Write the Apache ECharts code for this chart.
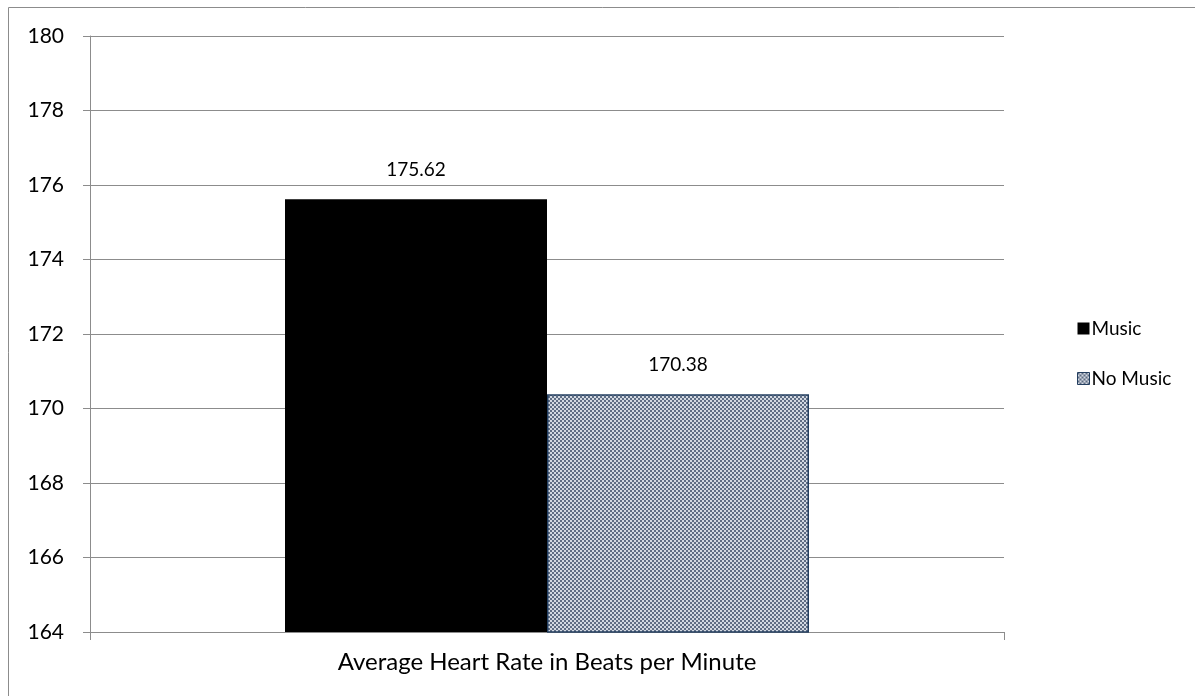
<!DOCTYPE html>
<html>
<head>
<meta charset="utf-8">
<script src="https://cdn.jsdelivr.net/npm/echarts@6/dist/echarts.min.js"></script>
<style>
  html, body { margin: 0; padding: 0; background: #fff; }
  #chart { width: 1195px; height: 696px; }
</style>
</head>
<body>
<div id="chart"></div>
<script>
// Chart data
const categories = ['Average Heart Rate in Beats per Minute'];
const seriesNames = ['Music', 'No Music'];
const musicValues = [175.62];
const noMusicValues = [170.38];
const yTicks = { min: 164, max: 180, step: 2 };

// Small checkerboard tile used as the fill of the "No Music" bar
function checkerTile() {
  const c = document.createElement('canvas');
  c.width = 4; c.height = 4;
  const g = c.getContext('2d');
  g.fillStyle = '#d3d9e2';
  g.fillRect(0, 0, 4, 4);
  g.fillStyle = '#5f6d84';
  g.fillRect(0, 0, 2, 2);
  g.fillRect(2, 2, 2, 2);
  return c;
}
const checker = { image: checkerTile(), repeat: 'repeat' };

const font = 'Lato, "Open Sans", "DejaVu Sans", sans-serif';
const axisGray = '#8c8c8c';

const chart = echarts.init(document.getElementById('chart'), null, { renderer: 'canvas' });
chart.setOption({
  animation: false,
  backgroundColor: '#fff',
  textStyle: { fontFamily: font },
  graphic: [{
    type: 'rect',
    shape: { x: 8.5, y: 7.5, width: 1200, height: 700 },
    style: { fill: 'none', stroke: axisGray, lineWidth: 1 },
    silent: true
  }],
  grid: { left: 90, right: 191, top: 36, bottom: 64, containLabel: false },
  legend: {
    orient: 'vertical',
    left: 1072,
    top: 314,
    itemWidth: 12,
    itemHeight: 12,
    itemGap: 31,
    icon: 'rect',
    textStyle: { fontSize: 19, color: '#000', fontFamily: font, padding: [0, 0, 0, -3] },
    data: [
      { name: seriesNames[0], itemStyle: { color: '#000', borderWidth: 0 } },
      { name: seriesNames[1], itemStyle: { color: checker, borderColor: '#243f60', borderWidth: 1 } }
    ]
  },
  xAxis: {
    type: 'category',
    data: categories,
    boundaryGap: true,
    axisLine: { lineStyle: { color: axisGray, width: 1 } },
    axisTick: { show: true, alignWithLabel: false, length: 8, lineStyle: { color: axisGray } },
    axisLabel: { fontSize: 24, color: '#000', margin: 18, fontFamily: font }
  },
  yAxis: {
    type: 'value',
    min: yTicks.min,
    max: yTicks.max,
    interval: yTicks.step,
    axisLine: { show: true, lineStyle: { color: axisGray, width: 1 } },
    axisTick: { show: true, length: 7, lineStyle: { color: axisGray } },
    axisLabel: { fontSize: 21, color: '#000', margin: 26, fontFamily: font },
    splitLine: { show: true, lineStyle: { color: axisGray, width: 1 } }
  },
  series: [
    {
      name: seriesNames[0],
      type: 'bar',
      data: musicValues,
      barWidth: 262,
      barGap: '0%',
      itemStyle: { color: '#000' },
      label: {
        show: true, position: 'top', distance: 20,
        fontSize: 19, color: '#000', fontFamily: font,
        formatter: p => p.value.toFixed(2)
      }
    },
    {
      name: seriesNames[1],
      type: 'bar',
      data: noMusicValues,
      barWidth: 262,
      barGap: '0%',
      itemStyle: { color: checker, borderColor: '#243f60', borderWidth: 1.5 },
      label: {
        show: true, position: 'top', distance: 20,
        fontSize: 19, color: '#000', fontFamily: font,
        formatter: p => p.value.toFixed(2)
      }
    }
  ]
});
</script>
</body>
</html>
